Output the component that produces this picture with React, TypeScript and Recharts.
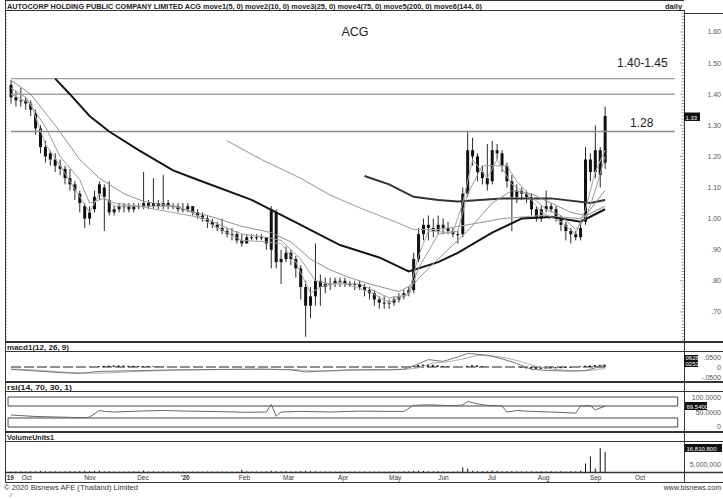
import React from "react";
import { ComposedChart, Bar, Line, XAxis, YAxis, ReferenceLine, ReferenceArea } from "recharts";

const FONT = "Arial, 'Liberation Sans', sans-serif";

// one bar per two trading days, late Sep 2019 -> mid Sep 2020: [open, high, low, close]
const bars: [number, number, number, number][] = [
  [1.43, 1.445, 1.37, 1.39], [1.39, 1.41, 1.36, 1.38], [1.38, 1.42, 1.36, 1.38], [1.38, 1.39, 1.35, 1.37],
  [1.37, 1.38, 1.33, 1.35], [1.34, 1.35, 1.27, 1.29], [1.29, 1.3, 1.21, 1.23], [1.23, 1.25, 1.18, 1.2],
  [1.21, 1.22, 1.17, 1.19], [1.19, 1.21, 1.15, 1.17], [1.17, 1.19, 1.14, 1.16], [1.16, 1.17, 1.11, 1.13],
  [1.13, 1.16, 1.09, 1.11], [1.11, 1.12, 1.06, 1.09], [1.08, 1.09, 1.02, 1.05], [1.04, 1.05, 0.97, 1.0],
  [1.0, 1.04, 0.98, 1.02], [1.03, 1.09, 1.02, 1.07], [1.08, 1.12, 1.06, 1.11], [1.1, 1.11, 0.96, 1.07],
  [1.06, 1.12, 1.01, 1.02], [1.02, 1.04, 1.01, 1.03], [1.03, 1.05, 1.02, 1.04], [1.04, 1.05, 1.02, 1.04],
  [1.04, 1.05, 1.02, 1.03], [1.03, 1.05, 1.02, 1.04], [1.04, 1.05, 1.03, 1.04], [1.04, 1.15, 1.03, 1.05],
  [1.05, 1.06, 1.03, 1.04], [1.04, 1.13, 1.03, 1.05], [1.05, 1.06, 1.03, 1.04], [1.04, 1.14, 1.03, 1.05],
  [1.05, 1.06, 1.03, 1.04], [1.04, 1.05, 1.03, 1.04], [1.04, 1.05, 1.02, 1.03], [1.03, 1.05, 1.02, 1.03],
  [1.03, 1.05, 1.02, 1.04], [1.04, 1.04, 1.01, 1.02], [1.02, 1.03, 1.0, 1.01], [1.01, 1.02, 0.99, 1.0],
  [1.0, 1.01, 0.97, 0.99], [0.99, 1.0, 0.97, 0.98], [0.98, 0.99, 0.96, 0.97], [0.97, 1.0, 0.95, 0.96],
  [0.96, 0.97, 0.94, 0.95], [0.95, 0.97, 0.93, 0.95], [0.95, 0.96, 0.92, 0.93], [0.93, 0.95, 0.91, 0.92],
  [0.92, 0.95, 0.92, 0.94], [0.94, 0.95, 0.93, 0.94], [0.94, 0.95, 0.93, 0.94], [0.94, 0.95, 0.93, 0.94],
  [0.94, 0.94, 0.9, 0.92], [0.9, 1.04, 0.84, 1.03], [1.02, 1.03, 0.84, 0.86], [0.86, 0.9, 0.79, 0.87],
  [0.87, 0.91, 0.86, 0.89], [0.89, 0.9, 0.85, 0.87], [0.87, 0.88, 0.81, 0.84], [0.84, 0.85, 0.74, 0.78],
  [0.78, 0.8, 0.62, 0.72], [0.72, 0.78, 0.68, 0.75], [0.75, 0.92, 0.72, 0.8], [0.8, 0.82, 0.72, 0.78],
  [0.78, 0.81, 0.76, 0.79], [0.79, 0.81, 0.77, 0.79], [0.79, 0.81, 0.78, 0.8], [0.8, 0.81, 0.78, 0.8],
  [0.8, 0.81, 0.78, 0.79], [0.79, 0.8, 0.78, 0.79], [0.79, 0.8, 0.77, 0.79], [0.79, 0.8, 0.77, 0.78],
  [0.78, 0.79, 0.75, 0.77], [0.77, 0.78, 0.74, 0.76], [0.76, 0.77, 0.72, 0.74], [0.74, 0.75, 0.71, 0.73],
  [0.73, 0.75, 0.71, 0.73], [0.73, 0.74, 0.71, 0.73], [0.73, 0.75, 0.72, 0.74], [0.74, 0.76, 0.73, 0.75],
  [0.75, 0.77, 0.74, 0.76], [0.76, 0.78, 0.75, 0.77], [0.77, 0.89, 0.76, 0.87], [0.87, 0.97, 0.86, 0.95],
  [0.95, 1.0, 0.93, 0.98], [0.98, 1.01, 0.93, 0.97], [0.97, 1.0, 0.94, 0.96], [0.96, 1.01, 0.95, 0.98],
  [0.98, 1.0, 0.95, 0.97], [0.97, 0.99, 0.95, 0.96], [0.96, 0.97, 0.94, 0.95], [0.95, 0.96, 0.92, 0.95],
  [0.95, 1.1, 0.94, 1.08], [1.08, 1.28, 1.07, 1.22], [1.22, 1.26, 1.17, 1.2], [1.2, 1.21, 1.12, 1.15],
  [1.15, 1.17, 1.11, 1.13], [1.13, 1.24, 1.09, 1.11], [1.12, 1.25, 1.11, 1.22], [1.22, 1.24, 1.19, 1.21],
  [1.21, 1.22, 1.15, 1.17], [1.17, 1.18, 1.1, 1.12], [1.12, 1.14, 0.96, 1.07], [1.07, 1.11, 1.05, 1.09],
  [1.09, 1.1, 1.06, 1.08], [1.08, 1.09, 1.05, 1.07], [1.07, 1.08, 1.01, 1.03], [1.03, 1.04, 0.99, 1.0],
  [1.0, 1.04, 0.99, 1.03], [1.03, 1.09, 1.02, 1.04], [1.04, 1.05, 1.02, 1.03], [1.03, 1.04, 0.99, 1.0],
  [1.0, 1.01, 0.96, 0.98], [0.98, 0.99, 0.93, 0.96], [0.96, 0.97, 0.92, 0.95], [0.95, 0.96, 0.93, 0.94],
  [0.94, 0.99, 0.93, 0.97], [0.99, 1.23, 0.98, 1.19], [1.19, 1.21, 1.12, 1.15], [1.15, 1.3, 1.13, 1.22],
  [1.22, 1.23, 1.1, 1.14], [1.18, 1.36, 1.16, 1.33],
];

// volume per bar, millions of shares
const volumeM = [
  0.4, 0.5, 0.6, 0.4, 0.5, 0.6, 0.7, 0.5, 0.6, 0.5,
  0.4, 0.5, 0.6, 0.5, 0.7, 0.8, 0.6, 0.7, 0.8, 0.6,
  0.5, 0.4, 0.4, 0.3, 0.4, 0.5, 0.4, 1.0, 0.4, 0.5,
  0.4, 0.5, 0.3, 0.4, 0.3, 0.3, 0.4, 0.3, 0.4, 0.3,
  0.3, 0.4, 0.3, 0.3, 0.4, 0.3, 0.4, 1.5, 0.5, 0.4,
  0.3, 0.4, 0.5, 0.8, 0.7, 0.6, 0.5, 0.4, 0.6, 0.7,
  0.9, 0.6, 0.5, 0.4, 0.3, 0.3, 0.4, 0.3, 0.3, 0.3,
  0.3, 0.4, 0.3, 0.3, 0.4, 0.4, 0.3, 0.3, 0.4, 0.4,
  0.5, 0.5, 0.9, 1.0, 0.7, 0.6, 0.5, 0.5, 0.6, 0.4,
  0.4, 0.5, 3.2, 2.5, 0.9, 0.6, 0.5, 0.6, 1.0, 0.8,
  0.6, 0.5, 0.7, 0.5, 0.5, 0.4, 0.5, 0.4, 0.5, 0.6,
  0.5, 0.4, 0.5, 0.4, 0.5, 0.6, 0.9, 6.0, 11.0, 2.5,
  16.8, 14.0,
];

// moving averages: [bar index, value]
const move1: [number, number][] = [
  [0, 1.4], [4, 1.37], [7, 1.24], [10, 1.17], [14, 1.07], [16, 1.02], [18, 1.08], [21, 1.04], [26, 1.04],
  [38, 1.005], [47, 0.93], [52, 0.925], [55, 0.92], [58, 0.86], [61, 0.76], [63, 0.78], [67, 0.795],
  [73, 0.765], [77, 0.73], [81, 0.76], [83, 0.88], [85, 0.96], [90, 0.955], [92, 1.05], [94, 1.19],
  [97, 1.13], [99, 1.19], [102, 1.11], [105, 1.08], [108, 1.02], [112, 0.99], [115, 0.95], [117, 1.03],
  [119, 1.15], [121, 1.22],
];
const move2: [number, number][] = [
  [0, 1.42], [3, 1.39], [7, 1.295], [10, 1.2], [14, 1.125], [16, 1.05], [19, 1.065], [21, 1.05], [26, 1.04],
  [34, 1.04], [38, 1.01], [47, 0.95], [52, 0.94], [55, 0.93], [59, 0.87], [62, 0.8], [65, 0.79], [71, 0.79],
  [77, 0.745], [81, 0.755], [83, 0.84], [87, 0.95], [91, 0.96], [93, 1.08], [96, 1.17], [99, 1.17],
  [101, 1.17], [103, 1.12], [106, 1.07], [109, 1.03], [112, 1.01], [115, 0.965], [117, 1.0], [119, 1.09],
  [121, 1.2],
];
const move3: [number, number][] = [
  [0, 1.445], [4, 1.4], [9, 1.3], [14, 1.19], [18, 1.13], [23, 1.08], [27, 1.055], [33, 1.04], [41, 1.005],
  [47, 0.975], [53, 0.955], [57, 0.925], [61, 0.87], [65, 0.835], [69, 0.81], [73, 0.79], [79, 0.765],
  [82, 0.79], [85, 0.84], [89, 0.9], [93, 0.96], [98, 1.05], [102, 1.09], [106, 1.08], [110, 1.05],
  [114, 1.02], [117, 1.01], [121, 1.09],
];
const move4: [number, number][] = [
  [9, 1.45], [12, 1.4], [16, 1.33], [20, 1.28], [26, 1.22], [33, 1.155], [38, 1.125], [49, 1.06], [54, 1.02],
  [59, 0.98], [67, 0.915], [75, 0.875], [81, 0.83], [87, 0.86], [91, 0.89], [98, 0.955], [104, 1.0],
  [110, 1.005], [116, 0.99], [121, 1.03],
];
const move5: [number, number][] = [
  [72, 1.137], [77, 1.11], [82, 1.07], [87, 1.06], [91, 1.055], [100, 1.065], [110, 1.065], [118, 1.05], [121, 1.06],
];
const move6: [number, number][] = [
  [44, 1.25], [51, 1.19], [59, 1.13], [65, 1.076], [71, 1.035], [79, 0.985], [82, 0.965], [87, 0.965],
  [93, 0.98], [100, 1.0], [108, 1.01], [116, 1.0], [121, 1.04],
];

// macd1(12, 26, 9)
const macdLine: [number, number][] = [
  [0, -0.012], [4, -0.018], [10, -0.028], [14, -0.032], [18, -0.022], [26, -0.018], [34, -0.014], [43, -0.012],
  [51, -0.011], [57, -0.014], [60, -0.025], [63, -0.021], [69, -0.014], [77, -0.014], [80, -0.011], [82, 0.005],
  [85, 0.037], [88, 0.028], [91, 0.05], [93, 0.068], [97, 0.059], [100, 0.041], [103, 0.018], [106, -0.012],
  [110, -0.018], [114, -0.021], [117, -0.018], [119, -0.004], [121, 0.011],
];
const macdSignal: [number, number][] = [
  [0, -0.01], [5, -0.015], [10, -0.024], [15, -0.031], [19, -0.03], [26, -0.022], [34, -0.016], [43, -0.013],
  [51, -0.011], [58, -0.013], [62, -0.02], [66, -0.019], [72, -0.015], [80, -0.013], [83, -0.004], [86, 0.02],
  [89, 0.026], [92, 0.04], [95, 0.058], [98, 0.056], [101, 0.045], [104, 0.026], [107, 0.003], [110, -0.01],
  [114, -0.018], [118, -0.017], [121, -0.008],
];
const macdHist: [number, number][] = [
  [18, 0.004], [19, 0.006], [20, 0.007], [21, 0.008], [22, 0.008], [23, 0.007], [24, 0.006], [25, 0.006],
  [26, 0.005], [27, 0.004], [28, 0.004], [29, 0.003], [30, 0.003], [31, 0.002],
  [82, 0.006], [83, 0.01], [84, 0.012], [85, 0.013], [86, 0.011], [87, 0.009], [88, 0.006], [89, 0.004],
  [93, 0.006], [94, 0.009], [95, 0.008], [96, 0.005],
  [104, -0.004], [105, -0.007], [106, -0.009], [107, -0.01], [108, -0.01], [109, -0.009], [110, -0.008],
  [111, -0.007], [112, -0.006], [113, -0.005], [114, -0.004],
  [116, 0.003], [117, 0.006], [118, 0.008], [119, 0.01], [120, 0.011], [121, 0.012],
];

// rsi(14, 70, 30, 1)
const rsiLine: [number, number][] = [
  [0, 40], [2, 38], [5, 35], [10, 33], [15, 31], [16, 33], [18, 55], [19, 52], [21, 50], [26, 53], [31, 55],
  [36, 53], [43, 51], [48, 49], [52, 50], [53, 75], [54, 36], [55, 50], [59, 52], [65, 50], [71, 53], [77, 52],
  [80, 52], [82, 72], [85, 74], [90, 71], [92, 73], [93, 85], [95, 77], [97, 72], [100, 70], [101, 50],
  [103, 55], [106, 52], [110, 50], [114, 47], [115, 46], [116, 70], [118, 71], [119, 57], [121, 69.5],
];

const monthLabels = ["'19", "Oct", "Nov", "Dec", "'20", "Feb", "Mar", "Apr", "May", "Jun", "Jul", "Aug", "Sep", "Oct"];
const monthAt = [-1.2, 2.2, 14.9, 25.7, 34.6, 46.4, 55.4, 66.6, 77.0, 87.0, 97.1, 107.3, 117.9, 127.1];

const priceTicks = [0.7, 0.8, 0.9, 1.0, 1.1, 1.2, 1.3, 1.4, 1.5, 1.6];
const levels = [1.45, 1.4, 1.28];
const macdTicks = [0.05, 0, -0.05];
const rsiTicks = [100, 50, 0];
const volTicks = [5];

const X_DOMAIN: [number, number] = [-1.22, 137.07];
const W = 718;
const AXIS_W = 39;
const PLOT_R = W - AXIS_W;
const LABEL_X = 716;

type Row = Record<string, any>;
const rows: Row[] = bars.map(([o, h, l, c], i) => ({ i, o, h, l, c, range: [l, h], vol: volumeM[i] }));
const put = (key: string, pts: [number, number][]) => pts.forEach(([i, v]) => { rows[i][key] = v; });
put("m5", move1);
put("m10", move2);
put("m25", move3);
put("m75", move4);
put("m200", move5);
put("m144", move6);
put("macd", macdLine);
put("signal", macdSignal);
put("hist", macdHist);
put("rsi", rsiLine);

const minorTicks: number[] = [];
for (let k = 61; k <= 166; k++) minorTicks.push(k / 100);

const fmtPrice = (v: number) => (v < 1 ? v.toFixed(2).slice(1) : v.toFixed(2));

function Candle(props: any) {
  const { x, y, width, height, payload } = props;
  if (!payload || x == null) return null;
  const { o, h, l, c } = payload;
  const hgt = Math.abs(height);
  const top = Math.min(y, y + height);
  const ppu = h > l ? hgt / (h - l) : 0;
  const cx = x + width / 2;
  const bTop = top + (h - Math.max(o, c)) * ppu;
  const bBot = top + (h - Math.min(o, c)) * ppu;
  return (
    <g>
      <line x1={cx} x2={cx} y1={top} y2={top + hgt} stroke="#2a2a2a" strokeWidth={1} />
      <rect x={cx - 1.5} y={bTop} width={3} height={Math.max(1, bBot - bTop)} fill="#111" />
    </g>
  );
}

function PriceTick(props: any) {
  const { y, payload } = props;
  const v = payload.value;
  const major = priceTicks.some((t) => Math.abs(t - v) < 1e-6);
  return (
    <g>
      <line x1={PLOT_R - (major ? 4 : 2.5)} x2={PLOT_R} y1={y} y2={y} stroke="#666" strokeWidth={0.6} />
      <line x1={0} x2={2} y1={y} y2={y} stroke="#666" strokeWidth={0.6} />
      {major && (
        <text x={LABEL_X} y={y + 2.5} textAnchor="end" fontSize={7} fill="#555" fontFamily={FONT}>
          {fmtPrice(v)}
        </text>
      )}
    </g>
  );
}

const sideTick = (fmt: (v: number) => string) => (props: any) => (
  <text x={LABEL_X} y={props.y + 2.5} textAnchor="end" fontSize={7} fill="#555" fontFamily={FONT}>
    {fmt(props.payload.value)}
  </text>
);

const fmtMacd = (v: number) => (v === 0 ? "0" : (v < 0 ? "-" : "") + Math.abs(v).toFixed(4).slice(1));
const fmtRsi = (v: number) => (v === 0 ? "0" : v.toFixed(4));
const fmtVol = (v: number) => (v * 1e6).toLocaleString("en-US");

function MonthTick(props: any) {
  const { x, payload } = props;
  const k = monthAt.indexOf(payload.value);
  const label = monthLabels[k] ?? "";
  const bold = label.startsWith("'");
  return (
    <text x={x} y={38} fontSize={6.5} fill="#333" fontFamily={FONT} fontWeight={bold ? "bold" : "normal"}>
      {label}
    </text>
  );
}

const margin = { top: 0, right: 0, bottom: 0, left: 0 };

const frame: [number, number, number, number, number][] = [
  [5, 0.5, 684, 0.5, 1],
  [5, 10.5, 684, 10.5, 1],
  [684, 13.5, 723, 13.5, 1],
  [5, 342, 723, 342, 2],
  [5, 351.5, 723, 351.5, 1],
  [5, 382, 723, 382, 2],
  [5, 391.5, 723, 391.5, 1],
  [5, 432, 723, 432, 2],
  [5, 441.5, 723, 441.5, 1],
  [5, 472.5, 723, 472.5, 1.5],
  [5, 482.5, 723, 482.5, 1],
  [5.5, 0, 5.5, 483, 1],
  [684.5, 10, 684.5, 483, 1],
];

function BlackBox({ x, y, w, h, lines }: { x: number; y: number; w: number; h: number; lines: string[] }) {
  return (
    <g>
      <rect x={x} y={y} width={w} height={h} fill="#111" />
      {lines.map((t, k) => (
        <text key={k} x={x + 1.5} y={y + (h / lines.length) * (k + 1) - 1.5} fontSize={6} fill="#fff" fontFamily={FONT}>
          {t}
        </text>
      ))}
    </g>
  );
}

export default function App() {
  const pos = (top: number): React.CSSProperties => ({ position: "absolute", left: 5, top });
  return (
    <div style={{ position: "absolute", left: 0, top: 0, width: 723, height: 499, overflow: "hidden", background: "#fff", fontFamily: FONT }}>
      <div style={pos(11)}>
        <ComposedChart width={W} height={331} data={rows} margin={margin}>
          <XAxis dataKey="i" type="number" domain={X_DOMAIN} hide allowDataOverflow />
          <YAxis orientation="right" width={AXIS_W} domain={[0.6032, 1.6675]} ticks={minorTicks} interval={0}
            tick={PriceTick} tickLine={false} axisLine={false} allowDataOverflow />
          {levels.map((lv) => (
            <ReferenceLine key={lv} segment={[{ x: 0, y: lv }, { x: 135.2, y: lv }]} stroke={lv === 1.28 ? "#8c8c8c" : "#a0a0a0"}
              strokeWidth={1.4} ifOverflow="visible" />
          ))}
          <Line dataKey="m144" stroke="#a8a8a8" strokeWidth={1.2} dot={false} connectNulls isAnimationActive={false} />
          <Line dataKey="m200" stroke="#333" strokeWidth={2} dot={false} connectNulls isAnimationActive={false} />
          <Line dataKey="m75" stroke="#151515" strokeWidth={2} dot={false} connectNulls isAnimationActive={false} />
          <Bar dataKey="range" barSize={3} shape={Candle} isAnimationActive={false} />
          <Line dataKey="m25" stroke="#8f8f8f" strokeWidth={1} dot={false} connectNulls isAnimationActive={false} />
          <Line dataKey="m10" stroke="#9c9c9c" strokeWidth={1} dot={false} connectNulls isAnimationActive={false} />
          <Line dataKey="m5" stroke="#a6a6a6" strokeWidth={1} dot={false} connectNulls isAnimationActive={false} />
        </ComposedChart>
      </div>

      <div style={pos(352)}>
        <ComposedChart width={W} height={30} data={rows} margin={margin}>
          <XAxis dataKey="i" type="number" domain={X_DOMAIN} hide allowDataOverflow />
          <YAxis orientation="right" width={AXIS_W} domain={[-0.075, 0.075]} ticks={macdTicks} interval={0}
            tick={sideTick(fmtMacd)} tickLine={false} axisLine={false} allowDataOverflow />
          <ReferenceLine segment={[{ x: 0, y: 0 }, { x: 121, y: 0 }]} stroke="#222" strokeWidth={1.2} strokeDasharray="10 3" />
          <Bar dataKey="hist" barSize={2} fill="#222" isAnimationActive={false} />
          <Line dataKey="signal" stroke="#b0b0b0" strokeWidth={1} dot={false} connectNulls isAnimationActive={false} />
          <Line dataKey="macd" stroke="#777" strokeWidth={1} dot={false} connectNulls isAnimationActive={false} />
        </ComposedChart>
      </div>

      <div style={pos(392)}>
        <ComposedChart width={W} height={40} data={rows} margin={margin}>
          <XAxis dataKey="i" type="number" domain={X_DOMAIN} hide allowDataOverflow />
          <YAxis orientation="right" width={AXIS_W} domain={[-16.7, 116.7]} ticks={rsiTicks} interval={0}
            tick={sideTick(fmtRsi)} tickLine={false} axisLine={false} allowDataOverflow />
          <ReferenceArea x1={-0.6} x2={135.8} y1={70} y2={100} fill="#fff" fillOpacity={0} stroke="#444" strokeWidth={1} ifOverflow="visible" />
          <ReferenceArea x1={-0.6} x2={135.8} y1={0} y2={30} fill="#fff" fillOpacity={0} stroke="#444" strokeWidth={1} ifOverflow="visible" />
          <Line dataKey="rsi" stroke="#666" strokeWidth={1} dot={false} connectNulls isAnimationActive={false} />
        </ComposedChart>
      </div>

      <div style={pos(442)}>
        <ComposedChart width={W} height={40} data={rows} margin={margin}>
          <XAxis dataKey="i" type="number" domain={X_DOMAIN} ticks={monthAt} interval={0} height={10}
            tick={MonthTick} tickLine={false} axisLine={false} allowDataOverflow />
          <YAxis orientation="right" width={AXIS_W} domain={[0, 21]} ticks={volTicks} interval={0}
            tick={sideTick(fmtVol)} tickLine={false} axisLine={false} allowDataOverflow />
          <Bar dataKey="vol" barSize={1} fill="#111" isAnimationActive={false} />
        </ComposedChart>
      </div>

      <svg width={723} height={499} style={{ position: "absolute", left: 0, top: 0, pointerEvents: "none" }}>
        {frame.map(([x1, y1, x2, y2, w], k) => (
          <line key={k} x1={x1} y1={y1} x2={x2} y2={y2} stroke="#333" strokeWidth={w} />
        ))}
        <text x={7} y={8.5} fontSize={7.5} fontWeight="bold" fill="#222" fontFamily={FONT} textLength={475} lengthAdjust="spacingAndGlyphs">
          AUTOCORP HOLDING PUBLIC COMPANY LIMITED ACG move1(5, 0) move2(10, 0) move3(25, 0) move4(75, 0) move5(200, 0) move6(144, 0)
        </text>
        <text x={665} y={8.5} fontSize={7.5} fontWeight="bold" fill="#222" fontFamily={FONT}>daily</text>
        <text x={355} y={36} fontSize={12.5} textAnchor="middle" fill="#222" fontFamily={FONT}>ACG</text>
        <text x={617} y={67} fontSize={12} fill="#222" fontFamily={FONT}>1.40-1.45</text>
        <text x={630} y={127} fontSize={12} fill="#222" fontFamily={FONT}>1.28</text>

        <text x={7} y={349.5} fontSize={7} fontWeight="bold" fill="#222" fontFamily={FONT} textLength={62} lengthAdjust="spacingAndGlyphs">macd1(12, 26, 9)</text>
        <text x={7} y={389.5} fontSize={7} fontWeight="bold" fill="#222" fontFamily={FONT} textLength={65} lengthAdjust="spacingAndGlyphs">rsi(14, 70, 30, 1)</text>
        <text x={7} y={439.5} fontSize={7} fontWeight="bold" fill="#222" fontFamily={FONT} textLength={47} lengthAdjust="spacingAndGlyphs">VolumeUnits1</text>
        <text x={4} y={490} fontSize={7} fill="#333" fontFamily={FONT} textLength={134} lengthAdjust="spacingAndGlyphs">© 2020 Bisnews AFE (Thailand) Limited</text>
        <text x={721} y={490} fontSize={7} fill="#333" fontFamily={FONT} textAnchor="end">www.bisnews.com</text>
        <text x={10} y={497} fontSize={6} fill="#333" fontFamily={FONT} fontStyle="italic">/</text>

        <BlackBox x={684} y={112.5} w={16} h={8.5} lines={["1.33"]} />
        <BlackBox x={684} y={355} w={14} h={12} lines={["0626", "0253"]} />
        <BlackBox x={685} y={402} w={22} h={8} lines={["69.5400"]} />
        <BlackBox x={685} y={444} w={37} h={8} lines={["16,810,800"]} />
      </svg>
    </div>
  );
}
